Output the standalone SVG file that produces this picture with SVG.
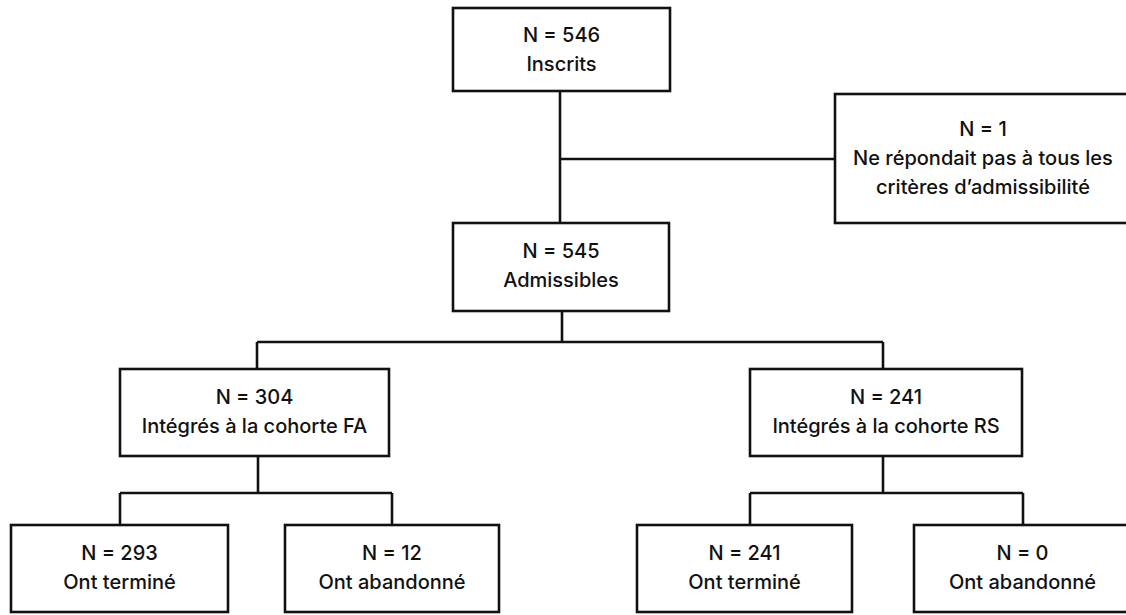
<svg xmlns="http://www.w3.org/2000/svg" width="1126" height="615" viewBox="0 0 1126 615">
<style>
.box{fill:#fff;stroke:#111;stroke-width:2.6}
.ln{fill:none;stroke:#111;stroke-width:2.6}
text{font-family:Inter,"Liberation Sans",sans-serif;font-size:20px;font-weight:500;fill:#111;text-anchor:middle}
</style>
<rect width="1126" height="615" fill="#fff"/>
<g id="connectors">
<path class="ln" d="M560,91V223"/>
<path class="ln" d="M560,159H835"/>
<path class="ln" d="M562,311V342"/>
<path class="ln" d="M257,342H883"/>
<path class="ln" d="M257,342V369"/>
<path class="ln" d="M883,342V369"/>
<path class="ln" d="M258,456V493"/>
<path class="ln" d="M120,493H392"/>
<path class="ln" d="M120,493V525"/>
<path class="ln" d="M392,493V525"/>
<path class="ln" d="M883,456V493"/>
<path class="ln" d="M750,493H1023"/>
<path class="ln" d="M750,493V525"/>
<path class="ln" d="M1023,493V525"/>
</g>
<g id="inscrits">
<rect class="box" x="453" y="8" width="217" height="83"/>
<text x="561.5" y="42">N = 546</text>
<text x="561.5" y="71">Inscrits</text>
</g>
<g id="exclus">
<rect class="box" x="835" y="94" width="300" height="129"/>
<text x="983" y="136">N = 1</text>
<text x="983" y="165">Ne répondait pas à tous les</text>
<text x="983" y="194">critères d’admissibilité</text>
</g>
<g id="admissibles">
<rect class="box" x="453" y="223" width="216" height="88"/>
<text x="561" y="258">N = 545</text>
<text x="561" y="287">Admissibles</text>
</g>
<g id="cohorte-fa">
<rect class="box" x="120" y="369" width="269" height="87"/>
<text x="254.5" y="404">N = 304</text>
<text x="254.5" y="433">Intégrés à la cohorte FA</text>
</g>
<g id="cohorte-rs">
<rect class="box" x="750" y="369" width="272" height="87"/>
<text x="886" y="404">N = 241</text>
<text x="886" y="433">Intégrés à la cohorte RS</text>
</g>
<g id="fa-termine">
<rect class="box" x="11" y="525" width="217" height="87"/>
<text x="119.5" y="560">N = 293</text>
<text x="119.5" y="589">Ont terminé</text>
</g>
<g id="fa-abandon">
<rect class="box" x="285" y="525" width="214" height="87"/>
<text x="392" y="560">N = 12</text>
<text x="392" y="589">Ont abandonné</text>
</g>
<g id="rs-termine">
<rect class="box" x="637" y="525" width="215" height="87"/>
<text x="744.5" y="560">N = 241</text>
<text x="744.5" y="589">Ont terminé</text>
</g>
<g id="rs-abandon">
<rect class="box" x="914" y="525" width="217" height="87"/>
<text x="1022.5" y="560">N = 0</text>
<text x="1022.5" y="589">Ont abandonné</text>
</g>
</svg>
